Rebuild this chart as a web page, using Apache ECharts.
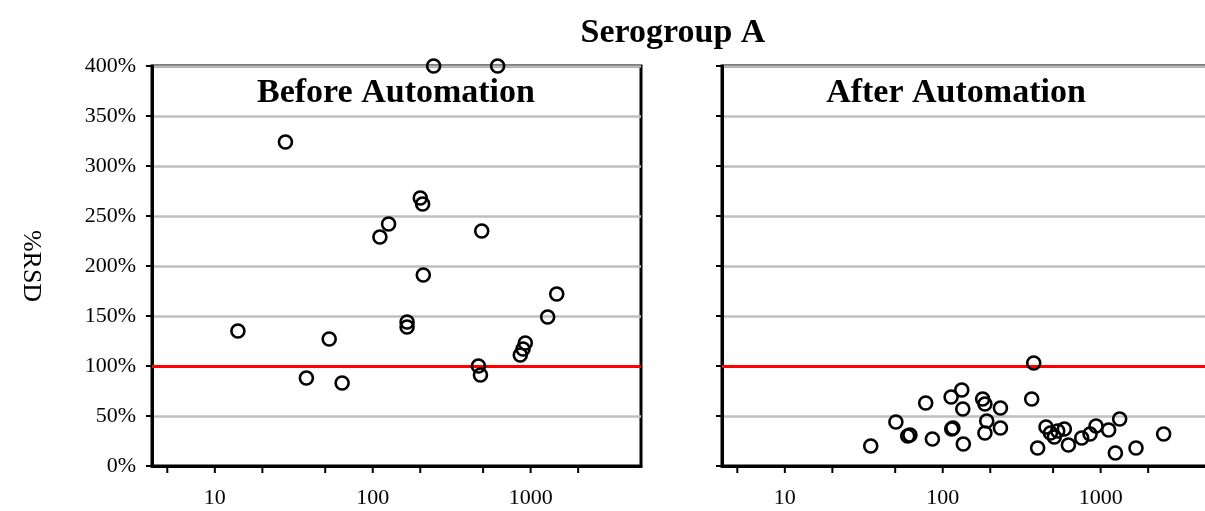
<!DOCTYPE html>
<html>
<head>
<meta charset="utf-8">
<script src="https://cdn.jsdelivr.net/npm/echarts@6/dist/echarts.min.js"></script>
<style>html,body{margin:0;padding:0;background:#fff}#c{width:1205px;height:511px}</style>
</head>
<body>
<div id="c"></div>
<script>
// ---- data ----
const chartTitle = 'Serogroup A';
const panelTitles = ['Before Automation', 'After Automation'];
const yAxisName = '%RSD';
const beforeX = [243, 618, 28, 200, 207, 126, 111, 209, 14, 53, 165, 165, 38, 64, 490, 1463, 1282, 925, 895, 860, 467, 481];
const beforeY = [400, 400, 324, 268, 262, 242, 229, 191, 135, 127, 144, 139, 88, 83, 235, 172, 149, 123, 117, 111, 100, 91];
const afterX = [35, 50.5, 60, 62, 78, 86, 113, 132, 134, 114, 116, 135, 179, 185, 232, 190, 185, 232, 377, 366, 451, 399, 481, 509, 535, 589, 625, 759, 857, 935, 1124, 1240, 1320, 1675, 2507];
const afterY = [20, 44, 30, 31, 63, 27, 69, 76, 57, 37, 38, 22, 67, 62, 58, 45, 33, 38, 103, 67, 39, 18, 33, 29, 35, 37, 21, 28, 32, 40, 36, 13, 47, 18, 32];
const xTickValues = [5, 10, 20, 50, 100, 200, 500, 1000, 2000];
const xTickLabels = [10, 100, 1000];
const xMin = 4, xMax = 5000;
const yMin = 0, yMax = 400, yStep = 50;
const thresholdY = 100;

// ---- chart ----
const FONT = 'Liberation Serif, Times New Roman, serif';
const grids = [
  {left: 152, top: 66, width: 489, height: 400},
  {left: 722, top: 66, width: 489, height: 400}
].map(g => Object.assign(g, {show: true, borderColor: '#000', borderWidth: 3, backgroundColor: 'transparent', containLabel: false, outerBoundsMode: 'none'}));

function xAxisOpt(i) {
  return {
    type: 'log', logBase: 10, gridIndex: i, min: xMin, max: xMax,
    axisLine: {show: true, lineStyle: {color: '#000', width: 3}},
    axisTick: {show: false},
    splitLine: {show: false},
    minorTick: {show: false},
    axisLabel: {
      color: '#000', fontFamily: FONT, fontSize: 22, margin: 21,
      showMinLabel: false, showMaxLabel: false,
      formatter: v => {
        const r = Math.round(v);
        return (xTickLabels.includes(r) && Math.abs(v - r) < 1e-6 * r) ? String(r) : '';
      }
    }
  };
}
function yAxisOpt(i) {
  return {
    type: 'value', gridIndex: i, min: yMin, max: yMax, interval: yStep,
    axisLine: {show: true, lineStyle: {color: '#000', width: 3}},
    axisTick: {show: true, inside: false, length: 6, lineStyle: {color: '#000', width: 2}},
    splitLine: {show: true, lineStyle: {color: '#bfbfbf', width: 2.5}},
    axisLabel: {
      show: i === 0, color: '#000', fontFamily: FONT, fontSize: 22, margin: 16,
      formatter: '{value}%'
    }
  };
}
function scatterSeries(i, xs, ys) {
  return {
    type: 'scatter', xAxisIndex: i, yAxisIndex: i,
    data: xs.map((x, k) => [x, ys[k]]),
    symbol: 'circle', symbolSize: 13, clip: false,
    itemStyle: {color: 'rgba(0,0,0,0)', borderColor: '#000', borderWidth: 2.6, opacity: 1},
    z: 3,
    markLine: {
      silent: true, symbol: 'none', label: {show: false},
      lineStyle: {color: '#ff0000', width: 3, type: 'solid'},
      data: [{yAxis: thresholdY}], z: 2
    }
  };
}
function tickSeries(i) {
  return {
    type: 'custom', xAxisIndex: i, yAxisIndex: i, clip: false, silent: true,
    data: xTickValues.map(v => [v, yMin]),
    encode: {x: 0, y: 1},
    renderItem: (params, api) => {
      const p = api.coord([api.value(0), api.value(1)]);
      return {type: 'line', shape: {x1: p[0], y1: p[1], x2: p[0], y2: p[1] + 7},
              style: {stroke: '#000', lineWidth: 2}};
    },
    z: 4
  };
}

const chart = echarts.init(document.getElementById('c'), null, {renderer: 'canvas'});
chart.setOption({
  animation: false,
  backgroundColor: '#fff',
  title: [
    {text: chartTitle, left: 668, top: 11, textAlign: 'center',
     textStyle: {fontFamily: FONT, fontWeight: 'bold', fontSize: 34, color: '#000'}},
    {text: panelTitles[0], left: 391, top: 71, textAlign: 'center',
     textStyle: {fontFamily: FONT, fontWeight: 'bold', fontSize: 34, color: '#000'}},
    {text: panelTitles[1], left: 951, top: 71, textAlign: 'center',
     textStyle: {fontFamily: FONT, fontWeight: 'bold', fontSize: 34, color: '#000'}}
  ],
  graphic: [{
    type: 'text', x: 31, y: 266, rotation: -Math.PI / 2,
    style: {text: yAxisName, fontFamily: FONT, fontSize: 26, fill: '#000', align: 'center', verticalAlign: 'middle'}
  }],
  grid: grids,
  xAxis: [xAxisOpt(0), xAxisOpt(1)],
  yAxis: [yAxisOpt(0), yAxisOpt(1)],
  series: [
    scatterSeries(0, beforeX, beforeY), tickSeries(0),
    scatterSeries(1, afterX, afterY), tickSeries(1)
  ]
});
</script>
</body>
</html>
